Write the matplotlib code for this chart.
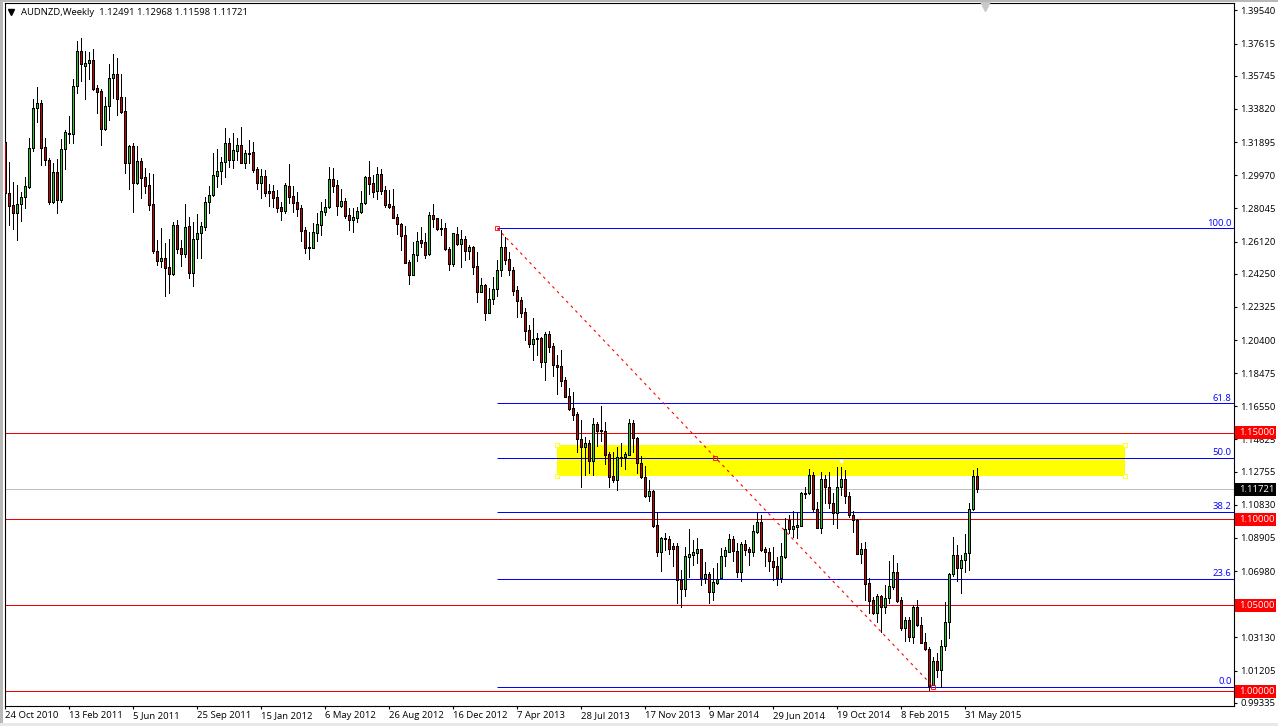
import numpy as np
import matplotlib
matplotlib.use("Agg")
import matplotlib.pyplot as plt
from matplotlib.patches import Rectangle
from matplotlib.transforms import blended_transform_factory

plt.rcParams["font.family"] = ["Open Sans", "DejaVu Sans"]

# ---------- weekly candles ----------
highs = [1.3221,1.3072,1.2960,1.2941,1.2902,1.2985,1.3212,1.3438,1.3508,1.3434,
         1.3212,1.3095,1.3066,1.3090,1.3206,1.3260,1.3341,1.3554,1.3777,1.3792,
         1.3719,1.3715,1.3728,1.3521,1.3496,1.3450,1.3641,1.3699,1.3676,1.3585,
         1.3454,1.3173,1.3183,1.3169,1.3099,1.3041,1.3008,1.3002,1.2621,1.2689,
         1.2602,1.2625,1.2728,1.2737,1.2621,1.2830,1.2757,1.2728,1.2772,1.2728,
         1.2869,1.2935,1.3124,1.3150,1.3105,1.3270,1.3212,1.3241,1.3212,1.3275,
         1.3144,1.3202,1.3192,1.3047,1.3031,1.3028,1.2944,1.2940,1.2911,1.2844,
         1.2950,1.3060,1.2935,1.2902,1.2824,1.2695,1.2668,1.2718,1.2776,1.2844,
         1.2857,1.3043,1.3037,1.2970,1.2915,1.2863,1.2805,1.2805,1.2811,1.2906,
         1.2993,1.3078,1.3001,1.3043,1.3033,1.2935,1.2911,1.2917,1.2770,1.2722,
         1.2702,1.2505,1.2611,1.2669,1.2695,1.2660,1.2786,1.2828,1.2747,1.2741,
         1.2718,1.2582,1.2664,1.2695,1.2679,1.2644,1.2592,1.2586,1.2549,1.2398,
         1.2364,1.2340,1.2404,1.2505,1.2679,1.2640,1.2549,1.2466,1.2354,1.2292,
         1.2224,1.2127,1.2166,1.2083,1.2056,1.2088,1.2094,1.2021,1.1953,1.1982,
         1.1823,1.1759,1.1736,1.1624,1.1575,1.1479,1.1459,1.1589,1.1566,1.1657,
         1.1566,1.1392,1.1392,1.1420,1.1440,1.1392,1.1581,1.1575,1.1479,1.1366,
         1.1308,1.1227,1.1169,1.1043,1.0894,1.0917,1.0902,1.0859,1.0859,1.0704,
         1.0840,1.0940,1.0878,1.0888,1.0826,1.0752,1.0690,1.0714,1.0743,1.0830,
         1.0840,1.0911,1.0902,1.0859,1.0865,1.0878,1.0840,1.0965,1.1033,1.1023,
         1.0840,1.0830,1.0836,1.0781,1.0859,1.1004,1.1023,1.1049,1.1033,1.1159,
         1.1188,1.1289,1.1275,1.1101,1.1275,1.1256,1.1275,1.1149,1.1300,1.1300,
         1.1285,1.1155,1.1047,1.1000,1.0859,1.0865,1.0656,1.0549,1.0565,1.0559,
         1.0617,1.0756,1.0791,1.0743,1.0545,1.0429,1.0429,1.0501,1.0530,1.0433,
         1.0336,1.0259,1.0201,1.0220,1.0297,1.0516,1.0685,1.0894,1.0849,1.0791,
         1.0913,1.1091,1.1285,1.12968]

body_top = [1.3188,1.2892,1.2822,1.2828,1.2869,1.2933,1.3153,1.3386,1.3415,1.3415,
            1.3159,1.3084,1.3014,1.3014,1.3148,1.3246,1.3244,1.3514,1.3717,1.3717,
            1.3647,1.3665,1.3665,1.3502,1.3485,1.3397,1.3560,1.3583,1.3583,1.3450,
            1.3368,1.3167,1.3167,1.3078,1.3078,1.2985,1.2939,1.2828,1.2557,1.2515,
            1.2515,1.2464,1.2706,1.2706,1.2573,1.2699,1.2700,1.2625,1.2660,1.2700,
            1.2840,1.2880,1.2997,1.3020,1.3072,1.3183,1.3183,1.3142,1.3171,1.3171,
            1.3124,1.3126,1.3130,1.3031,1.2993,1.2993,1.2906,1.2906,1.2869,1.2811,
            1.2939,1.2935,1.2875,1.2840,1.2807,1.2677,1.2580,1.2666,1.2712,1.2788,
            1.2811,1.2973,1.2973,1.2939,1.2848,1.2846,1.2764,1.2753,1.2788,1.2834,
            1.2985,1.2985,1.2952,1.3002,1.3004,1.2910,1.2830,1.2817,1.2753,1.2712,
            1.2648,1.2491,1.2538,1.2615,1.2619,1.2607,1.2764,1.2764,1.2747,1.2691,
            1.2689,1.2567,1.2660,1.2654,1.2625,1.2627,1.2578,1.2578,1.2468,1.2358,
            1.2358,1.2276,1.2335,1.2445,1.2578,1.2578,1.2509,1.2445,1.2330,1.2272,
            1.2201,1.2098,1.2044,1.2050,1.2050,1.2073,1.2073,1.2003,1.1893,1.1887,
            1.1806,1.1713,1.1643,1.1608,1.1463,1.1440,1.1440,1.1550,1.1552,1.1517,
            1.1513,1.1376,1.1248,1.1360,1.1360,1.1376,1.1556,1.1556,1.1469,1.1324,
            1.1242,1.1163,1.1163,1.0965,1.0888,1.0888,1.0884,1.0842,1.0843,1.0646,
            1.0783,1.0795,1.0807,1.0824,1.0824,1.0679,1.0679,1.0632,1.0650,1.0783,
            1.0818,1.0882,1.0882,1.0812,1.0853,1.0853,1.0826,1.0929,1.0981,1.0981,
            1.0824,1.0807,1.0754,1.0725,1.0783,1.0940,1.0994,1.0960,1.0965,1.1149,
            1.1151,1.1254,1.1254,1.1060,1.1231,1.1231,1.1184,1.1091,1.1184,1.1231,
            1.1231,1.1132,1.1025,1.0994,1.0826,1.0826,1.0627,1.0528,1.0551,1.0551,
            1.0539,1.0611,1.0690,1.0690,1.0528,1.0412,1.0412,1.0487,1.0487,1.0383,
            1.0284,1.0243,1.0174,1.0174,1.0261,1.0400,1.0679,1.0789,1.0789,1.0760,
            1.0801,1.1060,1.1248,1.12491]

body_bot = [1.2892,1.2820,1.2780,1.2780,1.2828,1.2869,1.2931,1.3153,1.3386,1.3157,
            1.3084,1.2844,1.2844,1.2855,1.2855,1.3148,1.3239,1.3239,1.3514,1.3641,
            1.3634,1.3647,1.3500,1.3483,1.3268,1.3268,1.3397,1.3560,1.3442,1.3366,
            1.3066,1.3066,1.2954,1.2954,1.2983,1.2937,1.2826,1.2559,1.2501,1.2501,
            1.2460,1.2424,1.2424,1.2569,1.2540,1.2540,1.2431,1.2431,1.2625,1.2660,
            1.2699,1.2840,1.2880,1.2995,1.3020,1.3072,1.3088,1.3088,1.3140,1.3070,
            1.3070,1.3122,1.3030,1.2954,1.2954,1.2896,1.2896,1.2865,1.2809,1.2791,
            1.2791,1.2873,1.2838,1.2803,1.2675,1.2577,1.2577,1.2577,1.2664,1.2710,
            1.2786,1.2811,1.2937,1.2820,1.2820,1.2762,1.2739,1.2739,1.2751,1.2786,
            1.2834,1.2948,1.2902,1.2908,1.2908,1.2824,1.2815,1.2751,1.2712,1.2646,
            1.2489,1.2420,1.2420,1.2536,1.2606,1.2536,1.2538,1.2745,1.2687,1.2687,
            1.2567,1.2482,1.2484,1.2598,1.2598,1.2559,1.2559,1.2466,1.2321,1.2321,
            1.2199,1.2199,1.2276,1.2335,1.2445,1.2505,1.2447,1.2327,1.2268,1.2199,
            1.2094,1.2019,1.2019,1.2044,1.1914,1.1914,1.2001,1.1893,1.1885,1.1804,
            1.1711,1.1641,1.1606,1.1463,1.1420,1.1420,1.1339,1.1339,1.1513,1.1512,
            1.1374,1.1246,1.1229,1.1229,1.1357,1.1360,1.1374,1.1469,1.1324,1.1242,
            1.1134,1.1136,1.0960,1.0807,1.0807,1.0882,1.0828,1.0828,1.0644,1.0592,
            1.0592,1.0780,1.0793,1.0805,1.0656,1.0656,1.0578,1.0578,1.0630,1.0656,
            1.0783,1.0811,1.0812,1.0694,1.0694,1.0820,1.0811,1.0811,1.0927,1.0822,
            1.0807,1.0754,1.0723,1.0656,1.0656,1.0781,1.0944,1.0944,1.0954,1.0962,
            1.1147,1.1149,1.1060,1.0950,1.0950,1.1184,1.1091,1.1033,1.1033,1.1184,
            1.1132,1.1025,1.0994,1.0799,1.0799,1.0625,1.0526,1.0456,1.0456,1.0491,
            1.0491,1.0539,1.0607,1.0526,1.0369,1.0369,1.0317,1.0317,1.0383,1.0282,
            1.0243,1.0030,1.0038,1.0121,1.0121,1.0261,1.0400,1.0679,1.0714,1.0714,
            1.0760,1.0801,1.1060,1.11721]

lows = [1.2795,1.2708,1.2685,1.2621,1.2733,1.2805,1.2925,1.3140,1.3308,1.3059,
        1.3059,1.2830,1.2834,1.2776,1.2840,1.3033,1.3183,1.3186,1.3477,1.3547,
        1.3438,1.3554,1.3492,1.3357,1.3175,1.3260,1.3318,1.3444,1.3347,1.3357,
        1.3012,1.2917,1.2786,1.2946,1.2867,1.2896,1.2795,1.2548,1.2476,1.2462,
        1.2298,1.2315,1.2418,1.2544,1.2470,1.2524,1.2402,1.2356,1.2518,1.2518,
        1.2679,1.2776,1.2877,1.2931,1.2946,1.2989,1.3047,1.3037,1.3086,1.3066,
        1.3037,1.3066,1.3018,1.2917,1.2867,1.2877,1.2819,1.2811,1.2786,1.2737,
        1.2780,1.2838,1.2786,1.2762,1.2615,1.2544,1.2511,1.2573,1.2615,1.2650,
        1.2768,1.2805,1.2902,1.2766,1.2811,1.2747,1.2679,1.2669,1.2728,1.2776,
        1.2830,1.2888,1.2873,1.2859,1.2888,1.2811,1.2805,1.2747,1.2656,1.2563,
        1.2486,1.2365,1.2418,1.2501,1.2582,1.2518,1.2534,1.2698,1.2679,1.2650,
        1.2563,1.2447,1.2472,1.2590,1.2466,1.2505,1.2509,1.2424,1.2261,1.2317,
        1.2156,1.2195,1.2249,1.2298,1.2412,1.2482,1.2418,1.2301,1.2176,1.2172,
        1.2040,1.1997,1.1924,1.1953,1.1881,1.1808,1.1972,1.1831,1.1726,1.1775,
        1.1711,1.1633,1.1575,1.1392,1.1188,1.1256,1.1266,1.1256,1.1424,1.1455,
        1.1320,1.1188,1.1217,1.1169,1.1308,1.1289,1.1372,1.1392,1.1266,1.1237,
        1.1130,1.1107,1.0956,1.0785,1.0700,1.0820,1.0797,1.0729,1.0514,1.0487,
        1.0555,1.0665,1.0733,1.0743,1.0619,1.0627,1.0514,1.0530,1.0621,1.0656,
        1.0727,1.0807,1.0758,1.0665,1.0642,1.0791,1.0733,1.0787,1.0917,1.0816,
        1.0729,1.0700,1.0646,1.0619,1.0636,1.0772,1.0917,1.0894,1.0888,1.0960,
        1.1120,1.1145,1.1049,1.0946,1.0917,1.1095,1.1062,1.0971,1.0950,1.1140,
        1.1091,1.1014,1.0925,1.0797,1.0747,1.0530,1.0452,1.0447,1.0404,1.0346,
        1.0456,1.0514,1.0592,1.0520,1.0356,1.0294,1.0294,1.0278,1.0379,1.0282,
        1.0239,1.0007,1.0036,1.0085,1.0026,1.0239,1.0307,1.0669,1.0642,1.0572,
        1.0694,1.0704,1.1052,1.11598]

direction = ("rrr gggggg rrr g r ggggg r gg rrr ggg rrr g r g rrrrr g rr g rr g r "
             "ggggggggg r gg r gg rr g rrrrr g rrrrrr ggggg rr g rr gggg rr g rrrrrrrr "
             "gg rr g rrrrr g r g r g rr g r gggg rrrrrrr gg r g rrrrrrrrr g r g rrrrr "
             "gggg rrrr g rr g rrrrr gggg r g r ggggg rr g rr gg rrrrr gg r ggggg rr g "
             "rrr gg rrrr g rrr g r ggg rr g r g rrrr g r gggg r gggg r").replace(" ", "")

# ---------- axis labels and levels ----------
y_ticks = [1.39540,1.37615,1.35745,1.33820,1.31895,1.29970,1.28045,1.26120,1.24250,1.22325,1.20400,
           1.18475,1.16550,1.14625,1.12755,1.10830,1.08905,1.06980,1.05055,1.03130,1.01205,0.99335]
date_labels = ["24 Oct 2010","13 Feb 2011","5 Jun 2011","25 Sep 2011","15 Jan 2012","6 May 2012",
               "26 Aug 2012","16 Dec 2012","7 Apr 2013","28 Jul 2013","17 Nov 2013","9 Mar 2014",
               "29 Jun 2014","19 Oct 2014","8 Feb 2015","31 May 2015"]
date_positions = [0,16,32,48,64,80,96,112,128,144,160,176,192,208,224,240]
round_levels = [1.15, 1.10, 1.05, 1.00]
last_price = 1.11721
fib_names = ["100.0","61.8","50.0","38.2","23.6","0.0"]
fib_prices = [1.2688,1.1672,1.1357,1.1044,1.0655,1.0027]
fib_start = 123
swing_bars = [123, 232]
swing_prices = [1.2688, 1.0027]
zone_bars = [138, 280]
zone_prices = [1.1250, 1.1430]

FS = 6.8
W, H = 1278, 726
fig = plt.figure(figsize=(W/100, H/100), dpi=100, facecolor="white")
# window edge of the terminal
fig.patches.append(Rectangle((0,0), 3/W, 1, transform=fig.transFigure, color="#b8b8b8", lw=0))
fig.patches.append(Rectangle((0,1-2/H), 1, 2/H, transform=fig.transFigure, color="#b8b8b8", lw=0))
fig.patches.append(Rectangle((0,0), 1, 3/H, transform=fig.transFigure, color="#e8e8e8", lw=0))

left, right, top, bottom = 4.7, 1233.5, 3.0, 705.7
ax = fig.add_axes([left/W, 1-bottom/H, (right-left)/W, (bottom-top)/H])
ax.set_xlim((left-5.3)/4, (right-5.3)/4)
ax.set_ylim(1-(bottom-691.3)/1722, 1+(691.3-top)/1722)
for s in ax.spines.values():
    s.set_linewidth(0.8)
    s.set_color("black")

# levels behind the candles
ax.add_patch(Rectangle((zone_bars[0], zone_prices[0]), zone_bars[1]-zone_bars[0], zone_prices[1]-zone_prices[0],
                       facecolor="#ffff00", edgecolor="none", zorder=1))
for p in round_levels:
    ax.axhline(p, color="#f00000", lw=0.72, zorder=2)
ax.axhline(last_price, color="#c0c0c0", lw=0.72, zorder=2)
x_end = ax.get_xlim()[1]
ax.hlines(fib_prices, fib_start, x_end, color="#0000ff", lw=0.72, zorder=2)

# candles
x = np.arange(len(highs))
colors = ["#22cc22" if d == "g" else "#cc0000" for d in direction]
ax.vlines(x, lows, highs, color="black", lw=0.72, zorder=3, antialiased=False)
ax.bar(x, np.array(body_top)-np.array(body_bot), bottom=body_bot, width=0.5, color=colors,
       edgecolor="black", linewidth=0.5, zorder=4, antialiased=False)

# swing line and object handles
ax.plot(swing_bars, swing_prices, color="#ff0000", lw=0.8, ls=(0,(2.5,3.5)), zorder=5)
ax.plot(swing_bars + [sum(swing_bars)/2], swing_prices + [sum(swing_prices)/2], ls="none", marker="s", ms=3,
        mfc="none", mec="#ff0000", mew=0.6, zorder=6)
zone_x = [zone_bars[0], zone_bars[0], zone_bars[1], zone_bars[1], sum(zone_bars)/2]
zone_y = [zone_prices[0], zone_prices[1], zone_prices[0], zone_prices[1], sum(zone_prices)/2]
ax.plot(zone_x, zone_y, ls="none", marker="s", ms=3.2, mfc="white", mec="#ffff00", mew=0.6, zorder=6)

# fib labels
label_tf = blended_transform_factory(ax.transAxes, ax.transData)
for name, p in zip(fib_names, fib_prices):
    ax.text(0.9985, p+0.0004, name, transform=label_tf, ha="right", va="bottom", fontsize=FS, color="#0000ff", zorder=7)

# axes ticks
ax.yaxis.tick_right()
ax.set_yticks(y_ticks)
ax.set_yticklabels([f"{v:.5f}" for v in y_ticks], fontsize=FS)
ax.tick_params(axis="y", length=2.4, width=0.8, pad=2.6, colors="black")
ax.set_xticks(date_positions)
ax.set_xticklabels(date_labels, fontsize=FS, ha="left")
ax.tick_params(axis="x", length=2.2, width=0.8, pad=1.5, colors="black")

# price boxes on the scale
box_w = 41/(right-left)
box_h = 13/1722
for p in round_levels + [last_price]:
    c = "black" if p == last_price else "#ff0000"
    ax.add_patch(Rectangle((1+1.8/(right-left), p-box_h/2), box_w, box_h, transform=label_tf,
                           facecolor=c, edgecolor="none", clip_on=False, zorder=8))
    ax.text(1+5.5/(right-left), p, f"{p:.5f}", transform=label_tf, color="white", fontsize=FS,
            va="center", ha="left", clip_on=False, zorder=9)

# header
ax.plot([(11-left)/(right-left)], [(bottom-12)/(bottom-top)], transform=ax.transAxes, marker="v", ms=4.5,
        color="black", ls="none", zorder=9)
ax.plot([(985-left)/(right-left)], [(bottom-6)/(bottom-top)], transform=ax.transAxes, marker="v", ms=7,
        color="#c8c8c8", ls="none", clip_on=False, zorder=9)
ax.text((21-left)/(right-left), (bottom-12.5)/(bottom-top), "AUDNZD,Weekly  1.12491 1.12968 1.11598 1.11721",
        transform=ax.transAxes, fontsize=FS, va="center", ha="left", color="black", zorder=9)

fig.savefig("out.png", dpi=100, facecolor=fig.get_facecolor())
